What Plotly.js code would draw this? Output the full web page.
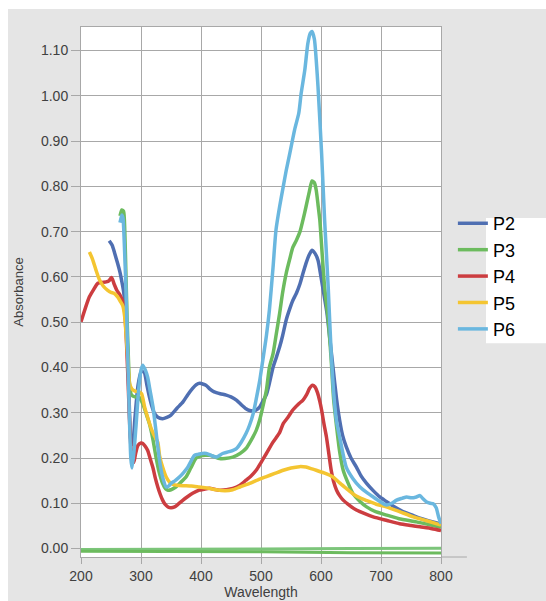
<!DOCTYPE html>
<html><head><meta charset="utf-8">
<script src="https://cdn.plot.ly/plotly-3.0.1.min.js"></script>
<style>
html,body{margin:0;padding:0;background:#ffffff;}
#chart{position:absolute;left:8px;top:9px;width:538px;height:592px;}
</style></head><body><div id="chart"></div>
<script>
const seriesNames = ['P2','P3','P4','P5','P6'];
const seriesColors = ['#4f6fb2','#6cbb5e','#cc3d40','#f4c531','#6ab7df'];

const p2_wl  = [247,252,256,261,265,268,271,274,277,280,283,286,290,295,300,305,310,314,318,322,328,336,343,350,360,370,378,386,392,398,404,409,415,422,432,442,450,459,467,475,481,487,492,498,503,509,514,520,525,531,536,542,548,553,559,565,570,575,580,585,590,595,600,605,610,615,620,626,631,636,642,650,659,667,676,687,698,709,720,735,750,765,780,790,800];
const p2_abs = [0.68,0.67,0.653,0.63,0.61,0.59,0.568,0.53,0.46,0.34,0.24,0.23,0.29,0.36,0.39,0.39,0.36,0.335,0.315,0.30,0.29,0.287,0.29,0.295,0.31,0.324,0.34,0.354,0.362,0.365,0.363,0.36,0.352,0.346,0.342,0.339,0.335,0.328,0.318,0.309,0.305,0.304,0.306,0.313,0.325,0.34,0.365,0.40,0.42,0.445,0.47,0.505,0.53,0.548,0.564,0.585,0.608,0.63,0.648,0.659,0.652,0.637,0.60,0.56,0.52,0.46,0.40,0.33,0.284,0.25,0.225,0.20,0.18,0.16,0.144,0.128,0.114,0.104,0.094,0.083,0.075,0.067,0.061,0.058,0.054];

const p3_wl  = [265,268,271,273,275,277,279,281,284,290,296,303,308,314,320,325,330,336,341,345,350,358,366,375,383,392,400,407,414,422,431,440,453,465,475,483,492,498,503,509,514,520,525,531,536,542,548,553,559,565,570,575,580,585,589,592,595,598,602,606,612,617,621,626,631,637,645,653,665,676,690,709,730,759,780,800];
const p3_abs = [0.735,0.748,0.745,0.70,0.60,0.50,0.42,0.36,0.34,0.335,0.335,0.32,0.30,0.276,0.24,0.202,0.17,0.144,0.132,0.129,0.13,0.136,0.146,0.158,0.178,0.20,0.205,0.206,0.206,0.203,0.199,0.199,0.202,0.21,0.221,0.238,0.261,0.285,0.313,0.35,0.40,0.43,0.47,0.519,0.565,0.608,0.64,0.665,0.681,0.70,0.726,0.755,0.785,0.812,0.808,0.792,0.76,0.726,0.65,0.578,0.505,0.416,0.33,0.269,0.215,0.173,0.145,0.122,0.104,0.092,0.082,0.074,0.066,0.059,0.053,0.047];

const p4_wl  = [200,207,214,221,228,235,242,247,251,255,260,265,270,273,276,279,282,285,288,291,295,300,303,307,311,315,320,324,328,332,336,340,345,350,356,362,370,378,386,397,405,414,431,453,465,475,483,492,500,509,520,531,537,545,553,563,570,576,581,586,590,594,598,601,605,609,613,617,621,626,631,637,648,659,673,687,710,731,750,765,785,800];
const p4_abs = [0.501,0.53,0.556,0.572,0.586,0.588,0.589,0.592,0.599,0.585,0.57,0.56,0.545,0.52,0.45,0.35,0.25,0.20,0.19,0.21,0.228,0.233,0.232,0.226,0.217,0.20,0.178,0.155,0.136,0.12,0.107,0.098,0.092,0.09,0.092,0.098,0.107,0.115,0.122,0.129,0.131,0.133,0.129,0.133,0.14,0.151,0.16,0.173,0.19,0.21,0.235,0.256,0.276,0.29,0.306,0.32,0.328,0.34,0.354,0.361,0.357,0.345,0.325,0.306,0.275,0.247,0.21,0.173,0.148,0.129,0.117,0.107,0.095,0.085,0.077,0.07,0.062,0.055,0.051,0.048,0.044,0.040];

const p5_wl  = [214,219,225,231,237,244,250,255,261,266,270,273,275,278,281,285,290,297,301,306,311,317,322,328,331,336,342,348,353,360,370,384,397,410,425,440,453,465,481,495,509,523,537,550,564,575,585,592,605,620,631,642,654,665,676,692,709,730,754,775,800];
const p5_abs = [0.655,0.64,0.615,0.593,0.58,0.571,0.566,0.564,0.556,0.545,0.535,0.51,0.475,0.42,0.365,0.352,0.348,0.346,0.342,0.313,0.29,0.265,0.25,0.235,0.205,0.18,0.158,0.146,0.142,0.14,0.139,0.138,0.136,0.134,0.13,0.128,0.13,0.136,0.144,0.152,0.159,0.166,0.173,0.178,0.181,0.18,0.176,0.173,0.167,0.158,0.145,0.133,0.12,0.112,0.106,0.098,0.092,0.082,0.07,0.062,0.052];

const p6_wl  = [265,268,270,272,275,278,281,283,285,288,292,296,300,303,307,311,315,320,324,328,332,336,342,346,350,357,364,371,378,384,389,395,402,409,417,425,431,436,447,459,467,475,481,487,492,498,503,509,514,520,525,531,537,542,548,556,563,567,573,578,582,585,589,592,595,601,606,612,617,622,626,631,642,653,665,676,687,698,709,718,726,735,743,751,759,765,770,776,782,787,792,796,800];
const p6_abs = [0.72,0.737,0.73,0.68,0.571,0.424,0.276,0.20,0.178,0.21,0.276,0.35,0.394,0.405,0.395,0.379,0.35,0.313,0.27,0.225,0.185,0.158,0.136,0.138,0.144,0.15,0.158,0.168,0.18,0.195,0.206,0.208,0.21,0.21,0.206,0.202,0.206,0.21,0.214,0.221,0.235,0.254,0.273,0.298,0.33,0.372,0.416,0.47,0.527,0.62,0.704,0.755,0.799,0.835,0.873,0.925,0.962,1.006,1.057,1.115,1.138,1.142,1.125,1.08,1.02,0.873,0.726,0.578,0.431,0.33,0.28,0.247,0.18,0.155,0.136,0.124,0.114,0.104,0.096,0.10,0.107,0.111,0.114,0.112,0.114,0.117,0.11,0.103,0.10,0.099,0.09,0.07,0.055];

const base_wl  = [200,350,500,650,800];
const baseA_abs = [-0.002,-0.002,-0.001,0.000,0.001];
const baseB_abs = [-0.006,-0.006,-0.007,-0.009,-0.010];

const xTicks = [200,300,400,500,600,700,800];
const yTicks = [0,0.1,0.2,0.3,0.4,0.5,0.6,0.7,0.8,0.9,1.0,1.1];

const series = [[p2_wl,p2_abs],[p3_wl,p3_abs],[p4_wl,p4_abs],[p5_wl,p5_abs],[p6_wl,p6_abs]];

const traces = [
  {x: base_wl, y: baseA_abs, mode:'lines', line:{color:'#7cc57a', width:3}, showlegend:false, hoverinfo:'skip'},
  {x: base_wl, y: baseB_abs, mode:'lines', line:{color:'#6cbb5e', width:3}, showlegend:false, hoverinfo:'skip'}
];
series.forEach((s,i)=>{
  traces.push({x:s[0], y:s[1], name:seriesNames[i], mode:'lines',
    line:{color:seriesColors[i], width:3.5, shape:'spline', smoothing:0.6}});
});

const gridC = '#a8a8a8';
const font = 'Arial, "Liberation Sans", sans-serif';
const layout = {
  width:538, height:592,
  margin:{l:73, r:105, t:18, b:44},
  paper_bgcolor:'#e5e5e5', plot_bgcolor:'#ffffff',
  font:{family:font, color:'#404040', size:14},
  xaxis:{range:[200,800], tickvals:xTicks, showgrid:true, gridcolor:gridC, gridwidth:1,
    showline:true, mirror:true, linecolor:gridC, ticks:'outside', ticklen:6, tickcolor:gridC,
    zeroline:false, tickfont:{size:14, color:'#404040'},
    title:{text:'Wavelength', font:{size:14, color:'#404040'}, standoff:2}},
  yaxis:{range:[-0.0186,1.152], tickvals:yTicks, tickformat:'.2f', showgrid:true, gridcolor:gridC, gridwidth:1,
    showline:true, mirror:true, linecolor:gridC, ticks:'outside', ticklen:9, tickcolor:gridC,
    zeroline:false, tickfont:{size:14, color:'#404040'},
    title:{text:'Absorbance', font:{size:13, color:'#404040'}, standoff:14}},
  legend:{x:1.033, y:0.664, xanchor:'left', yanchor:'top', bgcolor:'rgba(0,0,0,0)',
    font:{size:18, color:'#000000', family:font}, tracegroupgap:0},
  shapes:[
    {type:'rect', xref:'paper', yref:'paper', x0:1.125, x1:1.30, y0:0.4034, y1:0.6394,
      fillcolor:'#ffffff', line:{width:0}, layer:'above'},
    {type:'line', xref:'paper', yref:'paper', x0:1, x1:1.072, y0:0, y1:0,
      line:{color:gridC, width:1}, layer:'above'}
  ]
};
Plotly.newPlot('chart', traces, layout, {staticPlot:true, displayModeBar:false});
</script></body></html>
